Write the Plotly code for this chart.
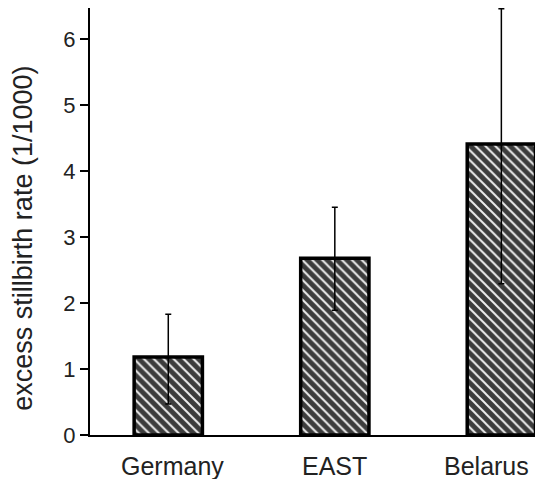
import plotly.graph_objects as go

categories = ["Germany", "EAST", "Belarus"]
values = [1.18, 2.68, 4.41]
err_plus = [0.65, 0.77, 2.05]
err_minus = [0.71, 0.79, 2.12]
y_ticks = [0, 1, 2, 3, 4, 5, 6]
y_title = "excess stillbirth rate (1/1000)"
label_shift = [4, 0, -15]

fig = go.Figure()
fig.add_trace(go.Bar(
    x=categories, y=values, width=0.41,
    marker=dict(color="#3c3c3c", line=dict(color="black", width=3.5),
                pattern=dict(shape="\\", fgcolor="#eeeeee", bgcolor="#3c3c3c",
                             size=7, solidity=0.28, fillmode="replace")),
    error_y=dict(type="data", symmetric=False, array=err_plus, arrayminus=err_minus,
                 color="black", thickness=1.5, width=3),
    cliponaxis=False,
))

for cat, dx in zip(categories, label_shift):
    fig.add_annotation(text=cat, x=cat, xref="x", y=0, yref="paper",
                       xanchor="center", yanchor="middle", yshift=-31, xshift=dx,
                       showarrow=False, font=dict(size=25, color="#222"))

fig.add_annotation(text=y_title, textangle=-90, xref="paper", yref="paper",
                   x=-0.148, y=0.462, xanchor="center", yanchor="middle",
                   showarrow=False, font=dict(size=27, color="#222"))

fig.update_layout(
    width=535, height=471,
    margin=dict(l=82, r=0, t=0, b=44),
    paper_bgcolor="white", plot_bgcolor="white",
    showlegend=False,
    font=dict(family="Liberation Sans, Arial, sans-serif", color="#222", size=22),
    xaxis=dict(range=[-0.47, 2.25], showline=True, linecolor="black", linewidth=2,
               ticks="", showticklabels=False, showgrid=False),
    yaxis=dict(range=[0, 6.47], tickvals=y_ticks, showline=True, linecolor="black",
               linewidth=2, ticks="outside", ticklen=8, tickwidth=1.5, tickcolor="black",
               showgrid=False, zeroline=False, tickfont=dict(size=22)),
)

fig.write_html("out.html")
